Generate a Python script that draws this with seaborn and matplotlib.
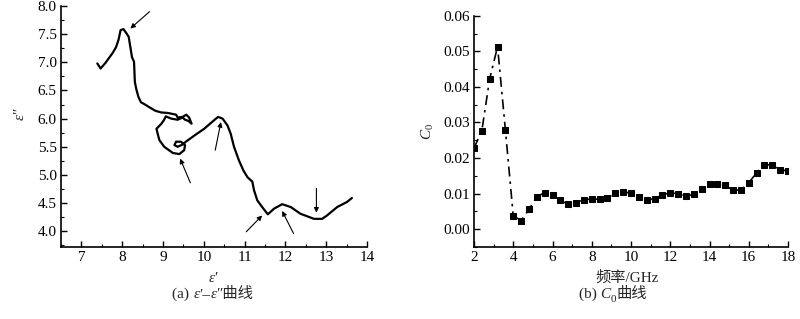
import numpy as np
import pandas as pd
import matplotlib
matplotlib.use("Agg")
import matplotlib.pyplot as plt
import seaborn as sns
from matplotlib.ticker import MultipleLocator, FormatStrFormatter

# ---- data: panel (a) Cole-Cole curve ----
eps_real = [7.39, 7.47, 7.59, 7.69, 7.77, 7.85, 7.91, 7.96, 8.03, 8.10, 8.16, 8.20, 8.24, 8.29,
            8.30, 8.31, 8.35, 8.40, 8.46, 8.56, 8.67, 8.81, 8.95, 9.12, 9.32, 9.36, 9.48, 9.57,
            9.64, 9.70, 9.62, 9.54, 9.48, 9.36, 9.20, 9.07, 9.02, 8.95, 8.84, 8.87, 8.91, 9.03,
            9.24, 9.40, 9.52, 9.54, 9.44, 9.32, 9.28, 9.36, 9.48, 9.56, 9.77, 10.01, 10.25, 10.35,
            10.46, 10.58, 10.66, 10.74, 10.86, 10.97, 11.07, 11.19, 11.23, 11.31, 11.43, 11.57,
            11.72, 11.92, 12.13, 12.37, 12.70, 12.90, 13.02, 13.27, 13.51, 13.63]
eps_imag = [6.98, 6.89, 6.99, 7.09, 7.17, 7.27, 7.40, 7.57, 7.59, 7.52, 7.45, 7.27, 7.09, 7.01,
            6.83, 6.65, 6.51, 6.38, 6.29, 6.25, 6.20, 6.14, 6.11, 6.10, 6.07, 6.02, 6.03, 6.07,
            6.02, 5.91, 5.96, 5.98, 6.02, 5.98, 6.00, 6.04, 5.97, 5.90, 5.82, 5.73, 5.62, 5.50,
            5.39, 5.37, 5.44, 5.53, 5.59, 5.59, 5.53, 5.50, 5.54, 5.59, 5.70, 5.82, 5.97, 6.03,
            6.00, 5.88, 5.73, 5.50, 5.26, 5.08, 4.96, 4.88, 4.73, 4.55, 4.43, 4.30,
            4.40, 4.48, 4.43, 4.31, 4.22, 4.22, 4.28, 4.43, 4.52, 4.59]
# arrows: (tail x, tail y, head x, head y)
arrow_tail_x = [8.67, 10.28, 9.67, 11.04, 12.20, 12.76]
arrow_tail_y = [7.90, 5.44, 4.86, 3.99, 3.96, 4.76]
arrow_head_x = [8.20, 10.42, 9.42, 11.43, 11.92, 12.76]
arrow_head_y = [7.60, 5.94, 5.29, 4.28, 4.36, 4.33]

# ---- data: panel (b) C0 vs frequency ----
freq = [2.0, 2.4, 2.8, 3.2, 3.6, 4.0, 4.4, 4.8, 5.2, 5.6, 6.0, 6.4, 6.8, 7.2, 7.6, 8.0, 8.4, 8.8,
        9.2, 9.6, 10.0, 10.4, 10.8, 11.2, 11.6, 12.0, 12.4, 12.8, 13.2, 13.6, 14.0, 14.4, 14.8,
        15.2, 15.6, 16.0, 16.4, 16.8, 17.2, 17.6, 18.0]
c0 = [0.0228, 0.0277, 0.0423, 0.0513, 0.0279, 0.0038, 0.0024, 0.0056, 0.0091, 0.0103, 0.0096,
      0.0081, 0.0070, 0.0074, 0.0083, 0.0085, 0.0084, 0.0088, 0.0101, 0.0105, 0.0101, 0.0091,
      0.0082, 0.0086, 0.0096, 0.0103, 0.0099, 0.0093, 0.0098, 0.0112, 0.0126, 0.0127, 0.0123,
      0.0110, 0.0110, 0.0130, 0.0159, 0.0181, 0.0181, 0.0167, 0.0164]

sns.set_style("ticks")
plt.rcParams['font.family'] = ['Liberation Serif', 'Noto Sans CJK SC', 'DejaVu Serif']
plt.rcParams['mathtext.fontset'] = 'custom'
plt.rcParams['mathtext.rm'] = 'Liberation Serif'
plt.rcParams['mathtext.it'] = 'Liberation Serif:italic'
plt.rcParams['font.size'] = 11
plt.rcParams['xtick.direction'] = 'in'
plt.rcParams['ytick.direction'] = 'in'
plt.rcParams['axes.edgecolor'] = 'black'
plt.rcParams['xtick.color'] = 'black'
plt.rcParams['ytick.color'] = 'black'

fig = plt.figure(figsize=(8.0, 3.19), dpi=100)
ax1 = fig.add_axes([0.07625, 0.2257, 0.3825, 0.7555])
ax2 = fig.add_axes([0.5925, 0.2257, 0.3925, 0.725])

df_a = pd.DataFrame({"er": eps_real, "ei": eps_imag})
sns.lineplot(data=df_a, x="er", y="ei", sort=False, estimator=None, ax=ax1,
             color="black", lw=1.6)
for tx, ty, hx, hy in zip(arrow_tail_x, arrow_tail_y, arrow_head_x, arrow_head_y):
    ax1.annotate("", xy=(hx, hy), xytext=(tx, ty),
                 arrowprops=dict(arrowstyle="-|>", color="black", lw=0.8, mutation_scale=7,
                                 shrinkA=0, shrinkB=0))
ax1.set_xlim(6.5, 14)
ax1.set_ylim(3.72, 8.0)
ax1.xaxis.set_major_locator(MultipleLocator(1))
ax1.xaxis.set_minor_locator(MultipleLocator(0.5))
ax1.yaxis.set_major_locator(MultipleLocator(0.5))
ax1.yaxis.set_minor_locator(MultipleLocator(0.25))
ax1.yaxis.set_major_formatter(FormatStrFormatter('%.1f'))
ax1.set_xlabel("$\\it{ε}$′")
ax1.set_ylabel("$\\it{ε}$″")
ax1.xaxis.set_label_coords(0.497, -0.10)
ax1.yaxis.set_label_coords(-0.11, 0.55)

df_b = pd.DataFrame({"f": freq, "c0": c0})
sns.lineplot(data=df_b, x="f", y="c0", ax=ax2, color="black", lw=1.2,
             linestyle=(0, (6, 3, 1.5, 3)), marker="s", markersize=4.8,
             markeredgecolor="black", markerfacecolor="black")
ax2.set_xlim(2, 18)
ax2.set_ylim(-0.005, 0.06)
ax2.xaxis.set_major_locator(MultipleLocator(2))
ax2.xaxis.set_minor_locator(MultipleLocator(1))
ax2.yaxis.set_major_locator(MultipleLocator(0.01))
ax2.yaxis.set_minor_locator(MultipleLocator(0.005))
ax2.yaxis.set_major_formatter(FormatStrFormatter('%.2f'))
ax2.set_xlabel("频率/GHz")
ax2.set_ylabel("$\\it{C}_0$")
ax2.xaxis.set_label_coords(0.487, -0.10)
ax2.yaxis.set_label_coords(-0.12, 0.50)

for ax in (ax1, ax2):
    sns.despine(ax=ax)
    ax.tick_params(which='major', length=4, width=1, labelsize=11, pad=3)
    ax.tick_params(which='minor', length=2, width=0.8)
    for s in ("left", "bottom"):
        ax.spines[s].set_linewidth(1.2)


def place_pieces(pieces, xc, yc):
    """Place a row of text pieces centred at figure coords (xc, yc)."""
    renderer = fig.canvas.get_renderer()
    W = fig.bbox.width
    texts = []
    for s, kw in pieces:
        t = fig.text(0, yc, s, va="baseline", ha="left", fontsize=kw.get("size", 11),
                     fontstyle=kw.get("style", "normal"))
        texts.append((t, kw))
    widths = [t.get_window_extent(renderer).width for t, _ in texts]
    total = sum(widths)
    x = xc - total / 2 / W
    for (t, kw), w in zip(texts, widths):
        t.set_x(x)
        t.set_y(yc + kw.get("dy", 0.0))
        x += w / W


base_y = 0.066
place_pieces([("(a) ", {}), ("ε", {"style": "italic"}), ("′–", {}),
              ("ε", {"style": "italic"}), ("″曲线", {})], 0.266, base_y)
place_pieces([("(b) ", {}), ("C", {"style": "italic"}), ("0", {"size": 8, "dy": -0.012}),
              ("曲线", {})], 0.766, base_y)

fig.savefig("out.png", dpi=100, facecolor="white")
